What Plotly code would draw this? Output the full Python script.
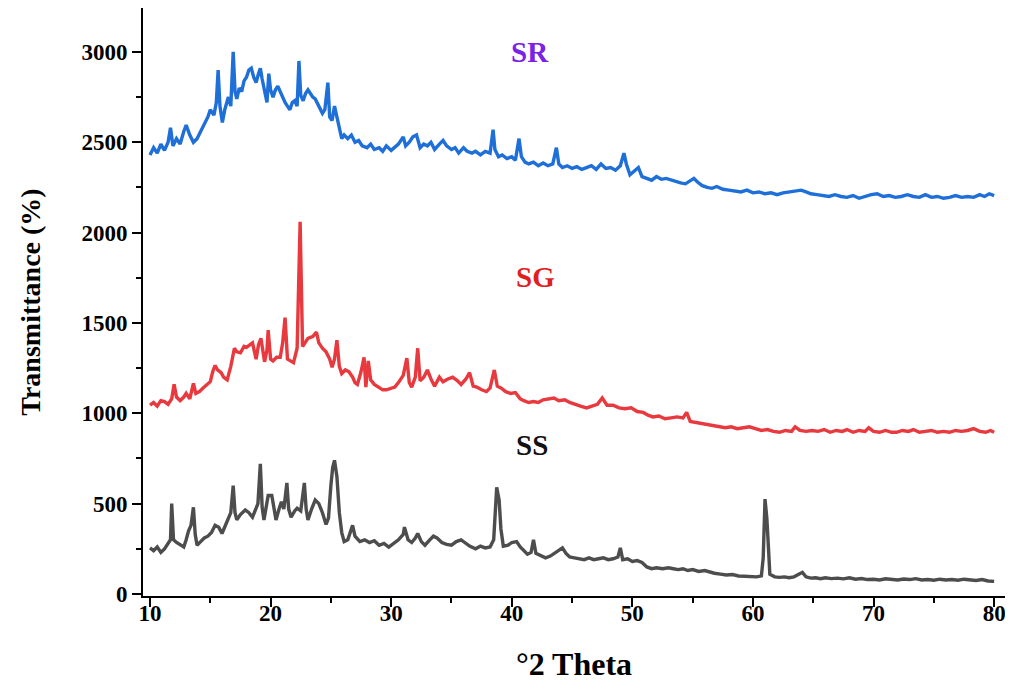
import plotly.graph_objects as go

# ---------------- data ----------------
sr_x = [10.0,10.3,10.6,10.9,11.2,11.5,11.7,11.9,12.2,12.5,12.8,13.0,13.3,13.6,13.9,14.2,14.5,14.8,15.0,15.3,
        15.5,15.65,15.8,16.0,16.2,16.5,16.7,16.9,17.05,17.2,17.4,17.6,17.8,18.0,18.2,18.4,18.6,18.8,19.0,19.15,
        19.3,19.5,19.7,19.85,20.0,20.2,20.4,20.6,20.8,21.0,21.2,21.4,21.6,21.8,22.0,22.2,22.35,22.5,22.7,22.9,
        23.1,23.3,23.5,23.7,23.9,24.1,24.3,24.5,24.75,24.9,25.1,25.3,25.5,25.7,25.9,26.1,26.4,26.7,27.0,27.3,
        27.6,28.0,28.3,28.6,29.0,29.3,29.6,30.0,30.3,30.6,31.0,31.2,31.5,31.8,32.1,32.4,32.7,33.0,33.3,33.6,
        34.0,34.3,34.6,35.0,35.3,35.6,36.0,36.3,36.7,37.0,37.4,37.8,38.2,38.45,38.6,38.9,39.2,39.6,40.0,40.3,
        40.6,40.8,41.1,41.4,41.8,42.2,42.6,43.0,43.4,43.7,43.9,44.2,44.6,45.0,45.4,45.8,46.2,46.6,47.0,47.4,
        47.8,48.2,48.6,49.0,49.3,49.5,49.8,50.2,50.5,50.8,51.2,51.6,52.0,52.4,52.8,53.2,53.6,54.0,54.4,54.8,
        55.1,55.4,55.8,56.2,56.6,57.0,57.5,58.0,58.5,59.0,59.5,60.0,60.5,61.0,61.5,62.0,62.5,63.0,63.5,64.0,
        64.4,64.8,65.3,65.8,66.3,66.8,67.3,67.8,68.3,68.8,69.3,69.8,70.3,70.8,71.3,71.8,72.3,72.8,73.3,73.8,
        74.3,74.8,75.3,75.8,76.3,76.8,77.3,77.8,78.3,78.8,79.2,79.6,80.0]
sr_y = [2430,2470,2440,2490,2455,2500,2580,2480,2520,2490,2560,2595,2540,2500,2520,2560,2600,2640,2680,2650,
        2720,2900,2700,2610,2680,2750,2700,3000,2780,2740,2800,2780,2840,2860,2900,2910,2860,2830,2880,2910,
        2850,2790,2720,2880,2790,2750,2790,2810,2780,2740,2720,2700,2680,2720,2730,2700,2950,2760,2730,2770,
        2790,2770,2750,2740,2710,2690,2660,2680,2830,2640,2620,2700,2640,2560,2520,2540,2520,2540,2500,2510,
        2480,2470,2490,2460,2470,2450,2480,2455,2470,2490,2530,2480,2500,2530,2540,2470,2490,2480,2500,2460,
        2490,2510,2480,2460,2470,2440,2470,2450,2440,2450,2430,2450,2440,2570,2460,2420,2430,2410,2420,2400,
        2520,2420,2390,2380,2390,2370,2385,2370,2380,2470,2380,2360,2370,2355,2365,2350,2360,2370,2350,2380,
        2355,2360,2345,2370,2440,2380,2320,2340,2360,2310,2300,2290,2310,2295,2300,2290,2280,2275,2270,2290,
        2300,2280,2260,2250,2245,2255,2240,2235,2230,2225,2235,2220,2225,2215,2220,2210,2220,2225,2230,2235,
        2225,2215,2210,2205,2200,2210,2200,2195,2205,2190,2200,2210,2215,2200,2205,2195,2200,2210,2200,2195,
        2210,2195,2200,2190,2195,2205,2195,2200,2195,2210,2200,2215,2205]

sg_x = [10.0,10.3,10.6,10.9,11.2,11.5,11.8,12.0,12.2,12.5,12.8,13.0,13.3,13.6,13.8,14.1,14.4,14.7,15.0,15.2,
        15.4,15.6,15.9,16.1,16.4,16.7,17.0,17.2,17.5,17.8,18.0,18.3,18.5,18.8,19.0,19.2,19.5,19.7,19.8,20.0,
        20.2,20.5,20.8,21.0,21.2,21.4,21.7,21.9,22.2,22.45,22.65,22.9,23.1,23.3,23.5,23.8,24.0,24.3,24.6,24.9,
        25.1,25.3,25.5,25.7,25.9,26.2,26.5,26.8,27.0,27.2,27.5,27.75,27.9,28.1,28.3,28.6,29.0,29.3,29.6,30.0,
        30.3,30.6,31.0,31.3,31.5,31.7,32.0,32.2,32.4,32.7,33.0,33.3,33.6,34.0,34.3,34.7,35.1,35.5,35.8,36.2,
        36.5,36.8,37.1,37.5,37.9,38.2,38.55,38.8,39.1,39.5,39.9,40.3,40.7,41.0,41.4,41.8,42.2,42.6,43.0,43.5,
        43.9,44.4,44.8,45.2,45.7,46.2,46.7,47.1,47.5,47.9,48.4,48.9,49.4,49.9,50.4,50.9,51.3,51.7,52.2,52.7,
        53.2,53.7,54.2,54.5,54.8,55.2,55.7,56.2,56.7,57.2,57.7,58.2,58.7,59.2,59.7,60.2,60.7,61.2,61.7,62.2,
        62.7,63.2,63.5,63.9,64.4,64.9,65.4,65.9,66.4,66.9,67.4,67.8,68.3,68.8,69.3,69.6,70.0,70.5,71.0,71.5,
        71.9,72.4,72.9,73.3,73.8,74.3,74.8,75.3,75.8,76.3,76.8,77.3,77.8,78.3,78.8,79.3,79.7,80.0]
sg_y = [1045,1060,1040,1070,1065,1050,1080,1160,1090,1070,1090,1110,1080,1165,1110,1120,1140,1160,1175,1230,
        1265,1240,1225,1200,1185,1260,1360,1340,1335,1370,1365,1380,1390,1300,1380,1415,1285,1350,1460,1300,
        1290,1310,1310,1390,1530,1300,1285,1280,1360,2060,1370,1400,1415,1420,1425,1450,1390,1360,1340,1300,
        1255,1300,1405,1260,1220,1240,1230,1200,1170,1160,1230,1310,1145,1290,1185,1160,1140,1130,1130,1140,
        1145,1170,1210,1305,1170,1145,1200,1360,1180,1200,1240,1190,1150,1200,1175,1190,1200,1180,1160,1190,
        1225,1150,1145,1130,1120,1140,1240,1150,1140,1120,1110,1115,1080,1070,1060,1065,1060,1075,1080,1085,
        1070,1075,1060,1050,1040,1030,1040,1050,1085,1045,1045,1030,1025,1030,1010,1005,990,980,985,970,
        975,980,975,1005,955,950,945,940,930,925,920,925,915,920,925,915,905,910,900,895,
        905,900,925,905,900,905,900,910,895,905,900,910,895,905,900,920,900,895,905,895,
        895,905,900,910,895,900,905,895,900,895,905,900,905,915,900,895,905,895]

ss_x = [10.0,10.3,10.6,10.9,11.2,11.5,11.7,11.8,11.95,12.2,12.5,12.8,13.0,13.2,13.4,13.6,13.75,13.9,14.2,14.5,
        14.8,15.1,15.4,15.7,15.97,16.2,16.5,16.7,16.9,17.05,17.2,17.5,17.9,18.2,18.5,18.8,18.95,19.15,19.3,19.45,
        19.6,19.8,20.1,20.3,20.45,20.7,20.9,21.1,21.35,21.5,21.7,22.0,22.2,22.5,22.8,22.95,23.1,23.4,23.7,24.0,
        24.3,24.6,24.8,25.0,25.15,25.3,25.5,25.7,25.9,26.1,26.4,26.8,27.0,27.4,27.8,28.2,28.6,29.0,29.4,29.8,
        30.2,30.6,31.0,31.1,31.4,31.7,32.0,32.2,32.5,32.8,33.2,33.5,33.8,34.2,34.6,35.0,35.4,35.8,36.1,36.5,
        37.0,37.4,37.8,38.2,38.5,38.75,38.95,39.1,39.3,39.7,40.0,40.4,40.7,41.0,41.3,41.6,41.8,42.0,42.4,42.8,
        43.2,43.6,44.0,44.2,44.5,44.8,45.2,45.6,46.0,46.4,46.8,47.2,47.6,48.0,48.4,48.8,49.0,49.2,49.6,50.0,
        50.4,50.8,51.2,51.6,52.0,52.5,53.0,53.4,53.8,54.2,54.6,55.0,55.5,56.0,56.4,56.8,57.3,57.8,58.3,58.8,
        59.3,59.8,60.3,60.7,60.85,61.0,61.15,61.25,61.4,61.8,62.2,62.6,63.0,63.4,63.8,64.1,64.4,64.8,65.2,65.6,
        66.0,66.5,67.0,67.5,68.0,68.5,69.0,69.5,70.0,70.5,71.0,71.5,72.0,72.5,73.0,73.5,74.0,74.5,75.0,75.5,
        76.0,76.5,77.0,77.5,78.0,78.5,79.0,79.5,80.0]
ss_y = [255,240,260,230,250,280,300,500,300,285,270,260,300,350,380,480,330,270,290,310,
        320,340,380,370,335,370,420,450,600,450,410,440,465,450,425,470,500,720,480,410,
        460,545,545,460,410,470,510,470,615,470,425,460,475,460,615,470,410,470,520,500,
        450,385,420,600,700,740,650,450,340,290,300,380,320,290,300,285,295,270,280,260,
        280,300,330,370,300,285,310,335,290,270,300,320,310,285,275,270,290,300,285,265,
        250,265,255,260,300,590,520,360,265,270,285,290,260,240,220,230,300,225,215,200,
        210,230,250,255,225,205,200,195,190,200,190,195,200,190,195,205,255,190,195,180,
        185,175,150,140,145,140,145,140,135,140,130,135,125,130,120,115,110,105,108,100,
        98,95,95,100,200,525,420,300,110,95,92,95,90,95,110,120,95,88,90,85,
        90,85,88,84,90,82,86,80,82,78,84,80,78,83,80,85,78,80,76,82,
        78,80,76,82,78,75,80,72,70]

series_names = ["SR", "SG", "SS"]
series_colors = ["#1f6fd9", "#e8393e", "#4d4d4d"]
label_colors = ["#7a22e6", "#e01f1f", "#111111"]
label_x = [41.5, 42.0, 41.7]
label_y = [3000, 1755, 825]

x_tick_vals = [10, 20, 30, 40, 50, 60, 70, 80]
y_tick_vals = [0, 500, 1000, 1500, 2000, 2500, 3000]

# ---------------- figure ----------------
serif = "Liberation Serif, Times New Roman, serif"
fig = go.Figure()
for name, xs, ys, col in zip(series_names, [sr_x, sg_x, ss_x], [sr_y, sg_y, ss_y], series_colors):
    fig.add_trace(go.Scatter(x=xs, y=ys, mode="lines", name=name,
                             line=dict(color=col, width=3.4), showlegend=False))

for name, lx, ly, lc in zip(series_names, label_x, label_y, label_colors):
    fig.add_annotation(x=lx, y=ly, text=name, showarrow=False,
                       font=dict(family=serif, size=29, color=lc, weight="bold"))

axis_common = dict(showline=True, linecolor="black", linewidth=1.8, mirror=True,
                   ticks="outside", tickcolor="black", tickwidth=1.8, ticklen=9,
                   showgrid=False, zeroline=False, automargin=False,
                   tickfont=dict(family=serif, size=23, color="black", weight="bold"))

fig.update_xaxes(range=[9.42, 80.9], tickvals=x_tick_vals, ticklabelstandoff=-14,
                 minor=dict(ticks="outside", dtick=5, tick0=5, ticklen=5, tickwidth=1.5, tickcolor="black"),
                 title=dict(text="°2 Theta", font=dict(family=serif, size=32, color="black", weight="bold"),
                            standoff=32),
                 **axis_common)
fig.update_yaxes(range=[-11, 3243], tickvals=y_tick_vals,
                 minor=dict(ticks="outside", dtick=250, tick0=250, ticklen=5, tickwidth=1.5, tickcolor="black"),
                 title=dict(text="Transmittance (%)", font=dict(family=serif, size=28, color="black", weight="bold"),
                            standoff=33),
                 **axis_common)

# page body adds an 8px offset, so the figure is 8px smaller than the window
fig.update_layout(width=1005, height=674, margin=dict(l=135, r=8, t=0, b=86),
                  plot_bgcolor="white", paper_bgcolor="white")

fig.write_html("out.html")
